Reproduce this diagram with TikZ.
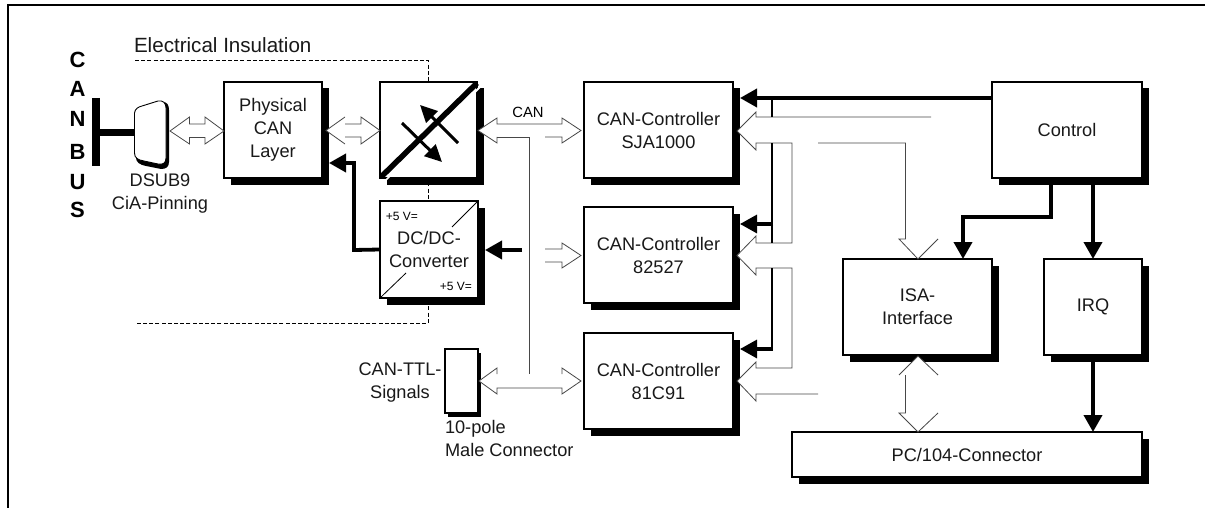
\documentclass[tikz,border=0pt]{standalone}
\usepackage{fontspec}
\setmainfont{Liberation Sans}
\usetikzlibrary{arrows.meta}
\tikzset{
  txt/.style={font=\fontsize{18.2}{23}\selectfont,align=center,inner sep=0pt,outer sep=0pt,text=black!90},
  boxnode/.style={txt,draw=black,line width=1.1pt,fill=white,anchor=north west,minimum width=#1},
  shadownode/.style={fill=black,inner sep=0pt,outer sep=0pt,anchor=north west},
  boldarrow/.style={line width=#1,-{Triangle[length=17pt,width=18pt]}},
  boldarrow/.default=3.8pt,
  busline/.style={line width=2.4pt,line cap=butt},
  hollow/.style={line width=0.8pt,draw=black!72,line join=miter},
  tipfill/.style={fill=white},
  dashline/.style={line width=0.8pt,dashed,dash pattern=on 4pt off 2.2pt},
}
% name, x, y, w, h, text
\newcommand{\cbox}[6]{%
  \node[shadownode,minimum width=#4pt,minimum height=#5pt] (#1s) at ([xshift=7pt,yshift=-6.5pt]#2,#3) {};
  \node[boxnode=#4pt,minimum height=#5pt] (#1) at (#2,#3) {#6};
}
\begin{document}
\begin{tikzpicture}[x=1pt,y=-1pt]
\useasboundingbox (0,0) rectangle (1205,508);
\fill[white] (0,0) rectangle (1205,508);
% frame
\coordinate (fa) at (8,508); \coordinate (fb) at (8,5); \coordinate (fc) at (1205,5);
\draw[line width=1.5pt] (fa) -- (fb) -- (fc);
% dashed insulation
\coordinate (da) at (135,60); \coordinate (db) at (428,60); \coordinate (dc) at (428,323); \coordinate (dd) at (135,323);
\draw[dashline] (da) -- (db) -- (dc) -- (dd);
% boxes
\cbox{phy}{224}{82}{98}{96}{Physical\\CAN\\Layer}
\cbox{iso}{380}{82}{97}{96}{}
\cbox{dcdc}{380}{201}{98}{97}{DC/DC-\\Converter}
\cbox{sja}{584}{82}{149}{96}{CAN-Controller\\SJA1000}
\cbox{kk}{584}{207}{149}{96}{CAN-Controller\\82527}
\cbox{cc}{584}{333}{149}{96}{CAN-Controller\\81C91}
\cbox{ctl}{992}{82}{150}{96}{Control}
\cbox{isa}{843}{259}{149}{96}{ISA-\\Interface}
\cbox{irq}{1044}{259}{98}{96}{IRQ}
\cbox{pc}{792}{432}{350}{45}{PC/104-Connector}
% connector block (smaller shadow)
\node[shadownode,minimum width=33pt,minimum height=64pt] (tens) at (448,353) {};
\node[boxnode=33pt,minimum height=64pt] (ten) at (445,349) {};
% isolator symbol
\coordinate (ia) at (381,177); \coordinate (ib) at (477,83);
\draw[white,line width=2pt] (483,84) -- (475,92);
\draw[white,line width=1.6pt] (384,182) -- (391,175);
\draw[line width=5.5pt] (ia) -- (ib);
\coordinate (xa) at (458,143); \coordinate (xb) at (420,105);
\coordinate (ya) at (402,123); \coordinate (yb) at (442,162);
\draw[line width=3pt,-{Triangle[length=17pt,width=16pt]}] (xa) -- (xb);
\draw[line width=3pt,-{Triangle[length=17pt,width=16pt]}] (ya) -- (yb);
% dcdc diagonals
\draw[line width=0.8pt] (dcdc.north east) -- (452,227);
\draw[line width=0.8pt] (dcdc.south west) -- (406,273);
\node[font=\fontsize{12}{13}\selectfont,inner sep=0pt] (va) at (402,216) {+5 V=};
\node[font=\fontsize{12}{13}\selectfont,inner sep=0pt] (vb) at (456,286) {+5 V=};
% can bus
\coordinate (bt) at (95.5,98); \coordinate (bb) at (95.5,166); \coordinate (bm) at (95.5,133);
\draw[line width=8pt] (bt) -- (bb);
\node[inner sep=0pt,font=\fontsize{22}{24}\bfseries\selectfont] (l1) at (77.5,60) {C};
\node[inner sep=0pt,font=\fontsize{22}{24}\bfseries\selectfont] (l2) at (77.5,89) {A};
\node[inner sep=0pt,font=\fontsize{22}{24}\bfseries\selectfont] (l3) at (77.5,119) {N};
\node[inner sep=0pt,font=\fontsize{22}{24}\bfseries\selectfont] (l4) at (77.5,152) {B};
\node[inner sep=0pt,font=\fontsize{22}{24}\bfseries\selectfont] (l5) at (77.5,182) {U};
\node[inner sep=0pt,font=\fontsize{22}{24}\bfseries\selectfont] (l6) at (77.5,210) {S};
% dsub
\fill[black] (136,116) .. controls (137,110) and (141,108) .. (146,107) -- (163,102) .. controls (167,102) and (169,105) .. (169,110) -- (169,162) .. controls (169,167) and (166,169) .. (161,169) -- (146,166) .. controls (140,165) and (136,162) .. (136,158) -- cycle;
\draw[line width=0.9pt,fill=white] (134.5,113) .. controls (135,109) and (138,107) .. (142,106) -- (158,101) .. controls (163,100) and (166,103) .. (166,108) -- (166,158) .. controls (166,163) and (163,165) .. (158,164) -- (144,161) .. controls (138,160) and (134.5,158) .. (134.5,153) -- cycle;
\node[inner sep=0pt,minimum width=0pt] (dsub) at (134.5,133) {};
\draw[line width=7pt] (bm) -- (dsub);
% texts
\node[txt,anchor=west,font=\fontsize{20.6}{23}\selectfont] (ei) at (134,45) {Electrical Insulation};
\node[txt] (dl) at (160,193.5) {DSUB9\\CiA-Pinning};
\node[txt] (tl) at (400,383) {CAN-TTL-\\Signals};
\node[txt,anchor=north west,align=left] (pl) at (445,420) {10-pole\\Male Connector};
\node[font=\fontsize{14.8}{16}\selectfont,inner sep=0pt] (cl) at (528,112) {CAN};
% white fill under the hollow arrow tips, which notch the shadows
\fill[tipfill] (345,117) -- (326,130.5) -- (345,144) -- cycle;
\fill[tipfill] (497,118) -- (478,130.5) -- (497,143) -- cycle;
\fill[tipfill] (497,368) -- (479,381) -- (497,394) -- cycle;
\fill[tipfill] (756,112) -- (737,131) -- (756,150) -- cycle;
\fill[tipfill] (756,236) -- (737,255.5) -- (756,275) -- cycle;
\fill[tipfill] (756,362) -- (737,381) -- (756,401) -- cycle;
\fill[tipfill] (899,375) -- (918,356) -- (938,375) -- cycle;
% hollow arrows
\draw[hollow] (170,131) -- (189.5,117) -- (189.5,124) -- (205,124) -- (205,117) -- (224,131) -- (205,144) -- (205,137.5) -- (189.5,137.5) -- (189.5,144) -- cycle;
\draw[hollow] (345,117) -- (326,130.5) -- (345,144) (345,124) -- (361,124) -- (361,117) -- (380,130.5) -- (361,144) -- (361,137) -- (345,137);
\draw[hollow] (497,137) -- (497,143) -- (478,130.5) -- (497,118) -- (497,124) -- (562,124) -- (562,118) -- (581,130.5) -- (562,143) -- (562,137) -- (545,137);
\draw[hollow] (497,137) -- (529.5,137) -- (529.5,374);
\draw[hollow] (545,249) -- (562,249) -- (562,243) -- (581,255.5) -- (562,268) -- (562,262) -- (545,262);
\draw[hollow] (497,374) -- (497,368) -- (479,381) -- (497,394) -- (497,388) -- (562,388) -- (562,394) -- (581,381) -- (562,368) -- (562,374);
\draw[hollow] (931,117) -- (756,117) -- (756,112) -- (737,131) -- (756,150) -- (756,143) -- (792,143) -- (792,243) -- (756,243) -- (756,236) -- (737,255.5) -- (756,275) -- (756,268) -- (792,268) -- (792,368) -- (756,368) -- (756,362) -- (737,381) -- (756,401) -- (756,394) -- (818,394);
\draw[hollow] (818,143) -- (905.5,143) -- (905.5,239) -- (899,239) -- (918,259) -- (938,239);
\draw[hollow] (899,375) -- (918,356) -- (938,375);
\draw[hollow] (905.5,375) -- (905.5,413) -- (899,413) -- (918,432) -- (938,413);
% bold
\draw[boldarrow] (ctl.west |- 0,98) -- (sjas.east |- 0,98);
\draw[busline] (772,98) -- (772,117);
\draw[busline] (772,143) -- (772,243);
\draw[busline] (772,268) -- (772,349);
\draw[boldarrow=3.2pt] (773,224) -- (kks.east |- 0,224);
\draw[boldarrow=3.2pt] (773,349) -- (ccs.east |- 0,349);
\draw[boldarrow] (ctls.south -| 1051,0) -- (1051,217) -- (963,217) -- (isa.north -| 963,0);
\draw[boldarrow] (ctls.south -| 1093,0) -- (irq.north -| 1093,0);
\draw[boldarrow] (irqs.south -| 1093,0) -- (pc.north -| 1093,0);
\draw[boldarrow] (dcdc.west) -- (354,250) -- (354,163) -- (phys.east |- 0,163);
\draw[boldarrow] (522,250) -- (dcdcs.east |- 0,250);
\end{tikzpicture}
\end{document}
